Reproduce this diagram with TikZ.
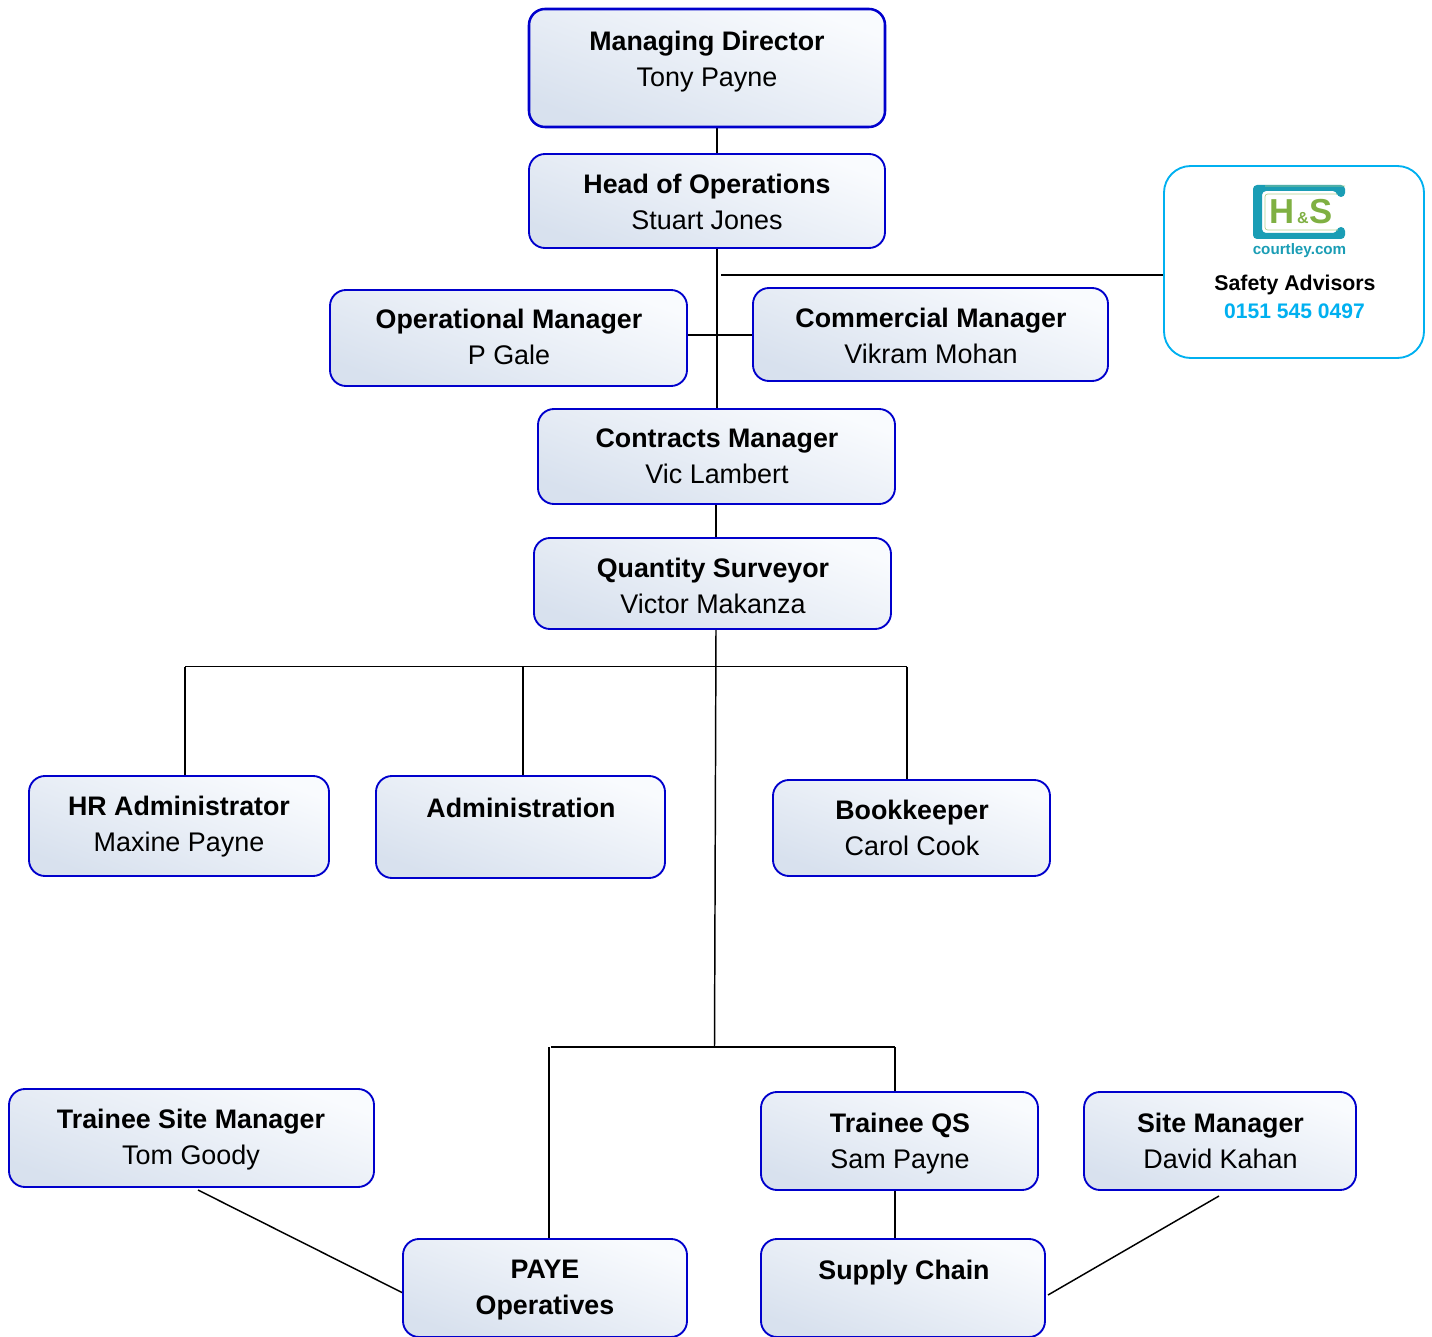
\documentclass[tikz,border=0pt]{standalone}
\usepackage{fontspec}
\setmainfont{Liberation Sans}
\definecolor{boxline}{HTML}{0000CC}
\definecolor{boxlight}{HTML}{F9FBFE}
\definecolor{boxdark}{HTML}{D8E1EE}
\definecolor{safety}{HTML}{00B0F0}
\definecolor{logoteal}{HTML}{1A9DB5}
\definecolor{logogreen}{HTML}{7FB042}
\tikzset{
  orgbox/.style={draw=boxline,line width=1.4pt,rounded corners=12pt,inner sep=0pt,outer sep=0pt,
    top color=boxlight,bottom color=boxdark,shading angle=-20},
  orgtext/.style={align=center,inner sep=0pt,font=\fontsize{20.2}{27}\selectfont,text=black},
  wire/.style={draw=black,line width=1.1pt},
  safetybox/.style={draw=safety,line width=1.4pt,rounded corners=20pt,fill=white,inner sep=0pt,outer sep=0pt},
}
\newcommand{\hd}[1]{{\fontsize{20.1}{27}\bfseries\selectfont #1}}
% name, cx, cy, w, h, text x, text y, text
\newcommand{\orgbx}[8]{%
  \node[orgbox,minimum width=#4*0.75pt,minimum height=#5*0.75pt] (#1) at (#2,#3) {};
  \node[orgtext] (#1t) at (#6,#7) {#8};
}
\begin{document}
\begin{tikzpicture}[x=0.75pt,y=-0.75pt]
\useasboundingbox (0,0) rectangle (1432,1337);
\coordinate (hsStart) at (721,275);
\coordinate (qsFoot) at (716,629);
\coordinate (upBusL) at (185,666.7);
\coordinate (upBusM) at (523,666.7);
\coordinate (upBusR) at (907,666.7);
\coordinate (loBusL) at (551,1047);
\coordinate (loBusC) at (714.5,1047);
\coordinate (loBusR) at (895,1047);
\coordinate (payeTop) at (549,1047);
\coordinate (tsmFoot) at (198,1190);
\coordinate (smFoot) at (1219,1196);
\coordinate (scEnd) at (1048,1295);

% connectors beneath boxes
\draw[wire] (717,127) coordinate (mdFoot) -- (717,154) coordinate (hoTop);
\draw[wire] (717,248) coordinate (hoFoot) -- (717,409) coordinate (cmgTop);
\draw[wire] (hsStart) -- (1164,275) coordinate (sfWest);
\draw[wire] (687,335) coordinate (omEast) -- (753,335) coordinate (cmWest);
\draw[wire] (716,504) coordinate (cmgFoot) -- (716,538) coordinate (qsTop);
\draw[wire] (qsFoot) -- (loBusC);
\draw[wire] (upBusL) -- (upBusR);
\draw[wire] (upBusL) -- (185,776) coordinate (hrTop);
\draw[wire] (upBusM) -- (523,776) coordinate (adTop);
\draw[wire] (upBusR) -- (907,780) coordinate (bkTop);
\draw[wire] (loBusL) -- (loBusR);
\draw[wire] (loBusR) -- (895,1092) coordinate (tqTop);
\draw[wire] (payeTop) -- (549,1239) coordinate (pyTop);
\draw[wire] (895,1190) coordinate (tqFoot) -- (895,1239) coordinate (scTop);
\draw[wire] (tsmFoot) -- (403,1293) coordinate (pyWest);
\draw[wire] (smFoot) -- (scEnd);

\begin{scope}[orgbox/.append style={line width=1.9pt}]
\orgbx{md}{707}{68}{356}{118}{707}{61.5}{\hd{Managing Director}\\Tony Payne}
\end{scope}
\orgbx{ho}{707}{201}{356}{94}{707}{202}{\hd{Head of Operations}\\Stuart Jones}
\orgbx{om}{508.5}{338}{357}{96}{509}{337}{\hd{Operational Manager}\\P Gale}
\orgbx{cm}{930.5}{334.5}{355}{93}{931}{336.3}{\hd{Commercial Manager}\\Vikram Mohan}
\orgbx{cg}{716.5}{456.5}{357}{95}{717}{456.5}{\hd{Contracts Manager}\\Vic Lambert}
\orgbx{qs}{712.5}{583.5}{357}{91}{713}{586}{\hd{Quantity Surveyor}\\Victor Makanza}
\orgbx{hr}{179}{826}{300}{100}{179}{826.5}{\hd{HR Administrator}\\Maxine Payne}
\orgbx{ad}{520.5}{827}{289}{102}{521}{808}{\hd{Administration}}
\orgbx{bk}{911.5}{828}{277}{96}{912}{828}{\hd{Bookkeeper}\\Carol Cook}
\orgbx{ts}{191.5}{1138}{365}{98}{191}{1139.5}{\hd{Trainee Site Manager}\\Tom Goody}
\orgbx{tq}{899.5}{1141}{277}{98}{900}{1143.5}{\hd{Trainee QS}\\Sam Payne}
\orgbx{sm}{1220}{1141}{272}{98}{1220.5}{1140.5}{\hd{Site Manager}\\David Kahan}
\orgbx{py}{545}{1288}{284}{98}{545}{1290}{\hd{PAYE}\\\hd{Operatives}}
\orgbx{sc}{903}{1288}{284}{98}{904}{1272.5}{\hd{Supply Chain}}

% safety advisors panel
\node[safetybox,minimum width=260*0.75pt,minimum height=192*0.75pt] (sf) at (1294,262) {};
\fill[logoteal,rounded corners=3pt]
  (1253,185) -- (1345,185) -- (1345,197) -- (1337,197) -- (1337,191) -- (1262,191)
  -- (1262,233) -- (1337,233) -- (1337,227) -- (1345,227) -- (1345,239) -- (1253,239) -- cycle;
\draw[logogreen!60,line width=0.5pt,rounded corners=2pt]
  (1345,186) -- (1265,186) (1337,194) -- (1265,194) -- (1265,230) -- (1338,230);
\node[inner sep=0pt,text=logogreen,font=\fontsize{26}{26}\bfseries\selectfont] (logoH) at (1282,212) {H};
\node[inner sep=0pt,text=logogreen,font=\fontsize{12}{12}\bfseries\selectfont] (logoA) at (1303,218) {\&};
\node[inner sep=0pt,text=logogreen,font=\fontsize{26}{26}\bfseries\selectfont] (logoS) at (1321,212) {S};
\node[inner sep=0pt,text=logoteal,font=\fontsize{11.4}{12}\bfseries\selectfont] (logoT) at (1299.5,250.5) {courtley.com};
\node[inner sep=0pt,font=\fontsize{16}{18}\bfseries\selectfont] (sfa) at (1295,284.5) {Safety Advisors};
\node[inner sep=0pt,text=safety,font=\fontsize{15.8}{18}\bfseries\selectfont] (sfb) at (1294.5,311) {0151 545 0497};
\end{tikzpicture}
\end{document}
